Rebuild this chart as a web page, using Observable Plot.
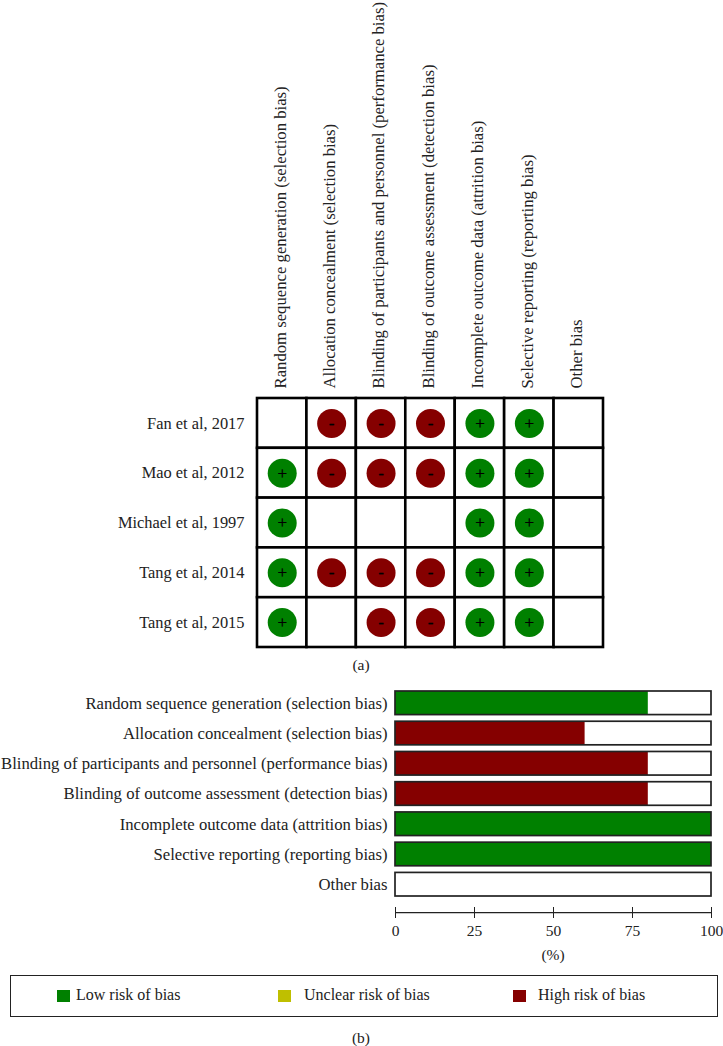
<!DOCTYPE html>
<html>
<head>
<meta charset="utf-8">
<script src="https://cdn.jsdelivr.net/npm/d3@7"></script>
<script src="https://cdn.jsdelivr.net/npm/@observablehq/plot@0.6"></script>
<style>
  html, body { margin: 0; padding: 0; background: #fff; }
  #page { position: relative; width: 723px; height: 1046px; overflow: hidden; font-family: "Liberation Serif", serif; color: #222; }
  #page svg { position: absolute; left: 0; overflow: visible; background: transparent; }
  .cap { position: absolute; left: 0; font-size: 15.5px; transform: translateX(-50%); white-space: nowrap; }
  #legend { position: absolute; left: 10px; top: 975px; width: 706px; height: 40px; border: 1px solid #222; font-size: 16px; }
  #legend .sw { position: absolute; top: 14px; width: 13px; height: 12px; }
  #legend .lb { position: absolute; top: 10px; white-space: nowrap; }
</style>
</head>
<body>
<div id="page"></div>
<script>
const domains = [
  "Random sequence generation (selection bias)",
  "Allocation concealment (selection bias)",
  "Blinding of participants and personnel (performance bias)",
  "Blinding of outcome assessment (detection bias)",
  "Incomplete outcome data (attrition bias)",
  "Selective reporting (reporting bias)",
  "Other bias"
];
const studies = ["Fan et al, 2017", "Mao et al, 2012", "Michael et al, 1997", "Tang et al, 2014", "Tang et al, 2015"];
const fan2017     = ["", "-", "-", "-", "+", "+", ""];
const mao2012     = ["+", "-", "-", "-", "+", "+", ""];
const michael1997 = ["+", "", "", "", "+", "+", ""];
const tang2014    = ["+", "-", "-", "-", "+", "+", ""];
const tang2015    = ["+", "", "-", "-", "+", "+", ""];
const judgements = [fan2017, mao2012, michael1997, tang2014, tang2015];

const lowPercent  = [80, 0, 0, 0, 100, 100, 0];
const highPercent = [0, 60, 80, 80, 0, 0, 0];
const totalPercent = 100;
const percentTicks = [0, 25, 50, 75, 100];

const riskLabels = ["Low risk of bias", "Unclear risk of bias", "High risk of bias"];
const riskColors = ["#008000", "#bfbf00", "#850000"];
const symbolFill = {"+": riskColors[0], "-": riskColors[2]};

const fontFamily = '"Liberation Serif", serif';
const page = document.getElementById("page");

const grid = studies.flatMap((s, i) => domains.map((d, j) => ({study: s, domain: d, mark: judgements[i][j]})));
const filled = grid.filter(d => d.mark !== "");

const summaryPlot = Plot.plot({
  width: 723, height: 660,
  marginLeft: 257, marginRight: 120, marginTop: 398, marginBottom: 13,
  style: {fontFamily, fontSize: "16.7px", color: "#222", background: "transparent"},
  x: {domain: domains, padding: 0, round: false, label: null},
  y: {domain: studies, padding: 0, round: false, label: null},
  marks: [
    Plot.cell(grid, {x: "domain", y: "study", inset: 0, fill: "white", stroke: "black", strokeWidth: 2.6}),
    Plot.dot(filled, {x: "domain", y: "study", r: 14.5, fill: d => symbolFill[d.mark]}),
    Plot.text(filled, {x: "domain", y: "study", text: "mark", fill: "black", stroke: "black", strokeWidth: 0.3, fontSize: 17}),
    Plot.axisX({anchor: "top", tickSize: 0, tickPadding: 10, tickRotate: -90, label: null, fontSize: 16.7, lineAnchor: "middle", dx: -2, textOverflow: null, tickFormat: d => d}),
    Plot.axisY({anchor: "left", tickSize: 0, tickPadding: 13, label: null, fontSize: 16.4})
  ]
});
summaryPlot.style.top = "0px";
page.appendChild(summaryPlot);

const bottomRows = domains.map((d, i) => ({domain: d, low: lowPercent[i], high: highPercent[i], total: totalPercent}));
const graphPlot = Plot.plot({
  width: 723, height: 290,
  marginLeft: 395, marginRight: 12, marginTop: 11, marginBottom: 74,
  style: {fontFamily, fontSize: "16.7px", color: "#222", background: "transparent"},
  x: {domain: [0, totalPercent], label: null},
  y: {domain: domains, paddingInner: 0.22, paddingOuter: 0, round: false, label: null},
  marks: [
    Plot.barX(bottomRows, {x: "total", y: "domain", fill: "white"}),
    Plot.barX(bottomRows.filter(d => d.low > 0), {x: "low", y: "domain", fill: riskColors[0]}),
    Plot.barX(bottomRows.filter(d => d.high > 0), {x: "high", y: "domain", fill: riskColors[2]}),
    Plot.barX(bottomRows, {x: "total", y: "domain", fill: "none", stroke: "#222", strokeWidth: 1.7}),
    Plot.ruleY([domains[domains.length - 1]], {x1: 0, x2: totalPercent, dy: 28, stroke: "#222", strokeWidth: 1.2}),
    Plot.axisX({anchor: "bottom", ticks: percentTicks, tickSize: 11, dy: 11, tickPadding: 6, tickFormat: d => d, stroke: "#222", fontSize: 15.5, label: null}),
    Plot.axisY({anchor: "left", tickSize: 0, tickPadding: 8, label: null, fontSize: 16.7, textOverflow: null, tickFormat: d => d})
  ]
});
graphPlot.style.top = "680px";
page.appendChild(graphPlot);

function caption(text, x, y) {
  const el = document.createElement("div");
  el.className = "cap";
  el.textContent = text;
  el.style.left = x + "px";
  el.style.top = y + "px";
  page.appendChild(el);
}
caption("(a)", 361, 656);
caption("(%)", 553, 946);
caption("(b)", 361, 1029);

const legend = document.createElement("div");
legend.id = "legend";
const swatchLeft = [46, 267, 502];
const labelLeft = [65, 293, 527];
riskLabels.forEach((label, i) => {
  const sw = document.createElement("div");
  sw.className = "sw";
  sw.style.left = swatchLeft[i] + "px";
  sw.style.background = riskColors[i];
  const lb = document.createElement("div");
  lb.className = "lb";
  lb.style.left = labelLeft[i] + "px";
  lb.textContent = label;
  legend.append(sw, lb);
});
page.appendChild(legend);
</script>
</body>
</html>
